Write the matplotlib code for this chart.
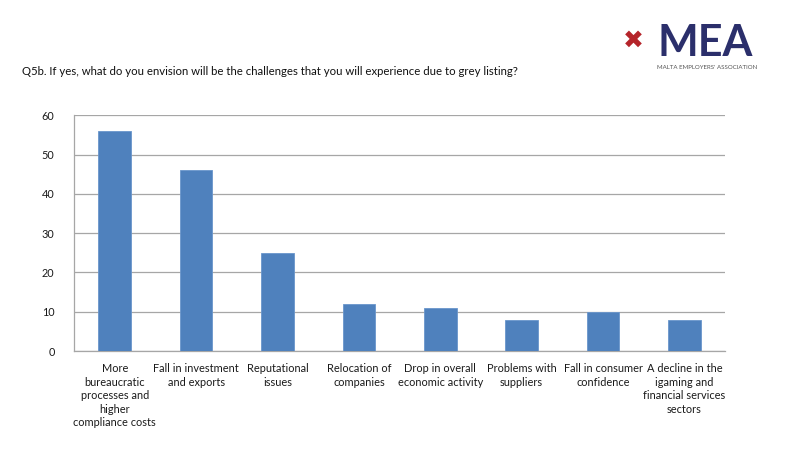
import matplotlib
matplotlib.use("Agg")
import matplotlib.pyplot as plt

categories = [
    "More\nbureaucratic\nprocesses and\nhigher\ncompliance costs",
    "Fall in investment\nand exports",
    "Reputational\nissues",
    "Relocation of\ncompanies",
    "Drop in overall\neconomic activity",
    "Problems with\nsuppliers",
    "Fall in consumer\nconfidence",
    "A decline in the\nigaming and\nfinancial services\nsectors",
]
values = [56, 46, 25, 12, 11, 8, 10, 8]
yticks = [0, 10, 20, 30, 40, 50, 60]
title = "Q5b. If yes, what do you envision will be the challenges that you will experience due to grey listing?"

plt.rcParams['font.family'] = ['Lato', 'DejaVu Sans']

fig = plt.figure(figsize=(8, 4.5), dpi=100)
ax = fig.add_axes([0.0925, 0.22, 0.814, 0.524])

x = list(range(len(categories)))
ax.bar(x, values, width=0.4, color="#4f81bd", edgecolor="#6a96cc", linewidth=0.6, zorder=3)
ax.set_xlim(-0.5, len(categories) - 0.5)
ax.set_ylim(0, 60)
ax.set_yticks(yticks)
ax.set_yticklabels([str(v) for v in yticks], fontsize=7.8, color="#1a1a1a")
ax.set_xticks(x)
ax.set_xticklabels(categories, fontsize=7.9, color="#1a1a1a", linespacing=1.27, va="top")
ax.tick_params(axis="x", length=0, pad=9)
ax.tick_params(axis="y", length=0, pad=14)
ax.yaxis.grid(True, color="#a6a6a6", linewidth=0.9, zorder=0)
for s in ["top", "right"]:
    ax.spines[s].set_visible(False)
ax.spines["left"].set_color("#a6a6a6")
ax.spines["bottom"].set_color("#a6a6a6")
ax.spines["left"].set_linewidth(0.9)
ax.spines["bottom"].set_linewidth(0.9)

fig.text(0.0275, 0.842, title, fontsize=8.2, color="#111111", va="center", ha="left")

# Logo
fig.text(0.792, 0.91, "\u2716", fontsize=18, color="#b5242a", va="center", ha="center",
         family=["DejaVu Sans"])
fig.text(0.822, 0.905, "MEA", fontsize=31, color="#2b2f6b", va="center", ha="left",
         fontweight="bold")
fig.text(0.821, 0.851, "MALTA EMPLOYERS' ASSOCIATION", fontsize=4.4, color="#555555",
         va="center", ha="left")

fig.savefig("out.png", dpi=100)
